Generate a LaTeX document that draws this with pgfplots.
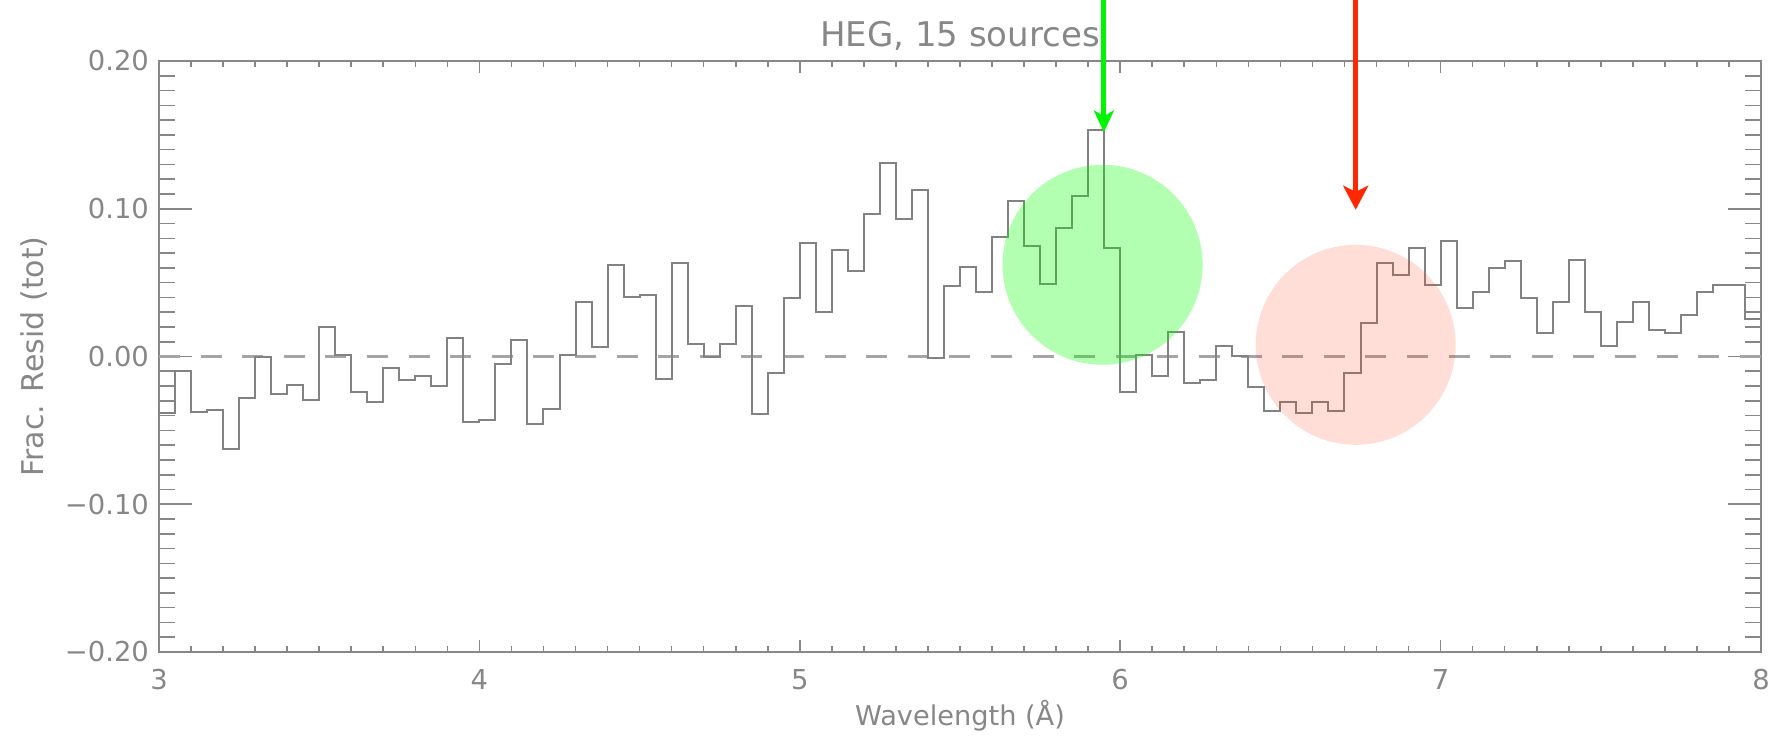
\documentclass[border=0pt]{standalone}
\usepackage{fontspec}
\setmainfont{DejaVu Sans}
\usepackage{pgfplots}
\usepackage{pgfplotstable}
\pgfplotsset{compat=1.18}
\usetikzlibrary{arrows.meta}
\definecolor{axgray}{RGB}{135,135,135}
\definecolor{histgray}{RGB}{130,130,130}
\definecolor{dashgray}{RGB}{165,165,165}
\definecolor{argreen}{RGB}{0,245,0}
\definecolor{arred}{RGB}{255,40,0}
\definecolor{cred}{RGB}{255,60,20}

\pgfplotstableread{
x y
3.00 -0.0380
3.05 -0.0095
3.10 -0.0379
3.15 -0.0361
3.20 -0.0627
3.25 -0.0282
3.30 0.0000
3.35 -0.0253
3.40 -0.0192
3.45 -0.0293
3.50 0.0203
3.55 0.0009
3.60 -0.0237
3.65 -0.0311
3.70 -0.0081
3.75 -0.0162
3.80 -0.0131
3.85 -0.0203
3.90 0.0124
3.95 -0.0440
4.00 -0.0433
4.05 -0.0052
4.10 0.0113
4.15 -0.0456
4.20 -0.0357
4.25 0.0009
4.30 0.0370
4.35 0.0061
4.40 0.0616
4.45 0.0402
4.50 0.0418
4.55 -0.0151
4.60 0.0636
4.65 0.0084
4.70 0.0000
4.75 0.0084
4.80 0.0339
4.85 -0.0388
4.90 -0.0113
4.95 0.0399
5.00 0.0767
5.05 0.0298
5.10 0.0718
5.15 0.0580
5.20 0.0964
5.25 0.1309
5.30 0.0932
5.35 0.1128
5.40 -0.0009
5.45 0.0474
5.50 0.0609
5.55 0.0436
5.60 0.0806
5.65 0.1054
5.70 0.0745
5.75 0.0492
5.80 0.0869
5.85 0.1088
5.90 0.1535
5.95 0.0733
6.00 -0.0237
6.05 0.0009
6.10 -0.0131
6.15 0.0167
6.20 -0.0180
6.25 -0.0162
6.30 0.0068
6.35 0.0005
6.40 -0.0208
6.45 -0.0372
6.50 -0.0311
6.55 -0.0384
6.60 -0.0311
6.65 -0.0372
6.70 -0.0113
6.75 0.0226
6.80 0.0636
6.85 0.0553
6.90 0.0733
6.95 0.0481
7.00 0.0779
7.05 0.0327
7.10 0.0436
7.15 0.0598
7.20 0.0643
7.25 0.0399
7.30 0.0162
7.35 0.0366
7.40 0.0654
7.45 0.0298
7.50 0.0068
7.55 0.0232
7.60 0.0368
7.65 0.0176
7.70 0.0158
7.75 0.0282
7.80 0.0436
7.85 0.0485
7.90 0.0485
7.95 0.0253
8.00 0.0253
}\hist

\begin{document}
\begin{tikzpicture}
\begin{axis}[
  name=ax,
  width=801pt, height=295.5pt, scale only axis,
  xmin=3, xmax=8, ymin=-0.2, ymax=0.2,
  clip=false,
  axis line style={axgray, line width=1pt},
  xtick={3,4,5,6,7,8}, xticklabels={3,4,5,6,7,8}, minor x tick num=9,
  ytick={-0.2,-0.1,0,0.1,0.2}, yticklabels={−0.20,−0.10,0.00,0.10,0.20}, minor y tick num=9,
  tick style={axgray, line width=0.8pt},
  major x tick style={/pgfplots/major tick length=6pt},
  minor x tick style={/pgfplots/minor tick length=3pt},
  major y tick style={/pgfplots/major tick length=16.5pt},
  minor y tick style={/pgfplots/minor tick length=8pt},
  tick label style={font=\fontsize{13.7}{16}\selectfont, text=axgray},
  xticklabel style={yshift=-5pt},
  yticklabel style={xshift=-1.5pt},
  title={HEG, 15 sources},
  title style={at={(axis description cs:0.5,1)}, anchor=base, yshift=1pt, font=\fontsize{17}{20}\selectfont, text=axgray},
  xlabel={Wavelength (Å)},
  xlabel style={at={(axis description cs:0.5,0)}, anchor=base, yshift=-36.5pt, font=\fontsize{13.6}{16}\selectfont, text=axgray},
  ylabel={Frac. Resid (tot)},
  ylabel style={at={(axis description cs:-0.0724,0.5)}, anchor=base, font=\fontsize{15}{18}\selectfont, text=axgray},
]
\addplot[dashgray, line width=1.3pt, dash pattern=on 10.5pt off 10.3pt, no marks] coordinates {(3,0) (8,0)};
\addplot[const plot, histgray, line width=1pt, no marks] table[x=x,y=y]{\hist};
\fill[green, opacity=0.3] (axis cs:5.945,0.0621) circle[radius=50pt];
\fill[cred, opacity=0.17] (axis cs:6.735,0.0079) circle[radius=50pt];
\coordinate (gt) at (axis cs:5.949,0.1517);
\coordinate (gs) at (axis cs:5.949,0.27);
\coordinate (rt) at (axis cs:6.735,0.0993);
\coordinate (rs) at (axis cs:6.735,0.27);
\end{axis}
\draw[argreen, line width=2.5pt, -{Stealth[length=11pt,width=10pt,inset=3pt]}] (gs) -- (gt);
\draw[arred, line width=2.5pt, -{Stealth[length=12pt,width=12.5pt,inset=3pt]}] (rs) -- (rt);
\pgfresetboundingbox
\path[use as bounding box] ([xshift=-79.5pt,yshift=-43pt]ax.south west) rectangle ([xshift=9pt,yshift=30.5pt]ax.north east);
\end{tikzpicture}
\end{document}
